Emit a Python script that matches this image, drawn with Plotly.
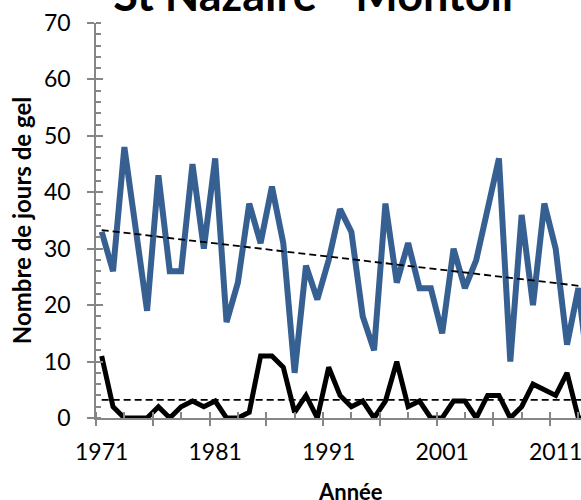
import plotly.graph_objects as go

# Frost days per year, St Nazaire - Montoir
years = list(range(1971, 2015))
jours_gel_min = [33, 26, 48, 33, 19, 43, 26, 26, 45, 30,
                 46, 17, 24, 38, 31, 41, 31, 8, 27, 21,
                 28, 37, 33, 18, 12, 38, 24, 31, 23, 23,
                 15, 30, 23, 28, 37, 46, 10, 36, 20, 38,
                 30, 13, 23, 6]
jours_gel_max = [11, 2, 0, 0, 0, 2, 0, 2, 3, 2,
                 3, 0, 0, 1, 11, 11, 9, 1, 4, 0,
                 9, 4, 2, 3, 0, 3, 10, 2, 3, 0,
                 0, 3, 3, 0, 4, 4, 0, 2, 6, 5,
                 4, 8, 0, 0]

# linear trend lines (end points)
trend_years = [1971, 2014]
trend_min = [33.3, 23.2]
trend_max = [3.2, 3.2]

label_years = [1971, 1981, 1991, 2001, 2011]
tick_bounds = [1970.5 + 5 * i for i in range(9)]

grey = "#868686"
font = "Lato"

fig = go.Figure()
fig.add_trace(go.Scatter(x=years, y=jours_gel_min, mode="lines",
                         line=dict(color="#376092", width=6), showlegend=False))
fig.add_trace(go.Scatter(x=years, y=jours_gel_max, mode="lines",
                         line=dict(color="black", width=5), showlegend=False))
fig.add_trace(go.Scatter(x=trend_years, y=trend_min, mode="lines",
                         line=dict(color="black", width=1.8, dash="7px,4px"), showlegend=False))
fig.add_trace(go.Scatter(x=trend_years, y=trend_max, mode="lines",
                         line=dict(color="black", width=1.8, dash="7px,4px"), showlegend=False))
# dummy trace so the overlay axes (extra tick marks) get drawn
fig.add_trace(go.Scatter(x=[1990], y=[0], xaxis="x2", yaxis="y2", mode="markers",
                         marker=dict(opacity=0), hoverinfo="skip", showlegend=False))

xrange = [1970.5, 2013.23]
fig.update_layout(
    width=581, height=500,
    margin=dict(l=96, r=0, t=23, b=82),
    plot_bgcolor="white", paper_bgcolor="white",
    font=dict(family=font, color="black"),
    title=dict(text="<b>St Nazaire - Montoir</b>", x=316 / 581, xanchor="center",
               y=1 - 11 / 500, yanchor="bottom", font=dict(size=45, family=font)),
    xaxis=dict(range=xrange, showgrid=False, zeroline=False, automargin=False,
               showline=True, linecolor=grey, linewidth=1.5, ticklabeloverflow="allow",
               tickmode="array", tickvals=label_years, ticktext=[str(y) for y in label_years],
               ticks="", ticklabelstandoff=13, tickfont=dict(size=23),
               minor=dict(tickmode="linear", tick0=1970.5, dtick=2.5, ticks="inside",
                          ticklen=6, tickwidth=1.5, tickcolor=grey)),
    xaxis2=dict(range=xrange, overlaying="x", anchor="y2", showgrid=False, zeroline=False,
                automargin=False, showline=False, tickmode="array", tickvals=tick_bounds,
                ticks="outside", ticklen=7, tickwidth=1.5, tickcolor=grey, showticklabels=False),
    yaxis=dict(range=[0, 70], dtick=10, showgrid=False, zeroline=False, automargin=False,
               showline=True, linecolor=grey, linewidth=1.5,
               ticks="outside", ticklen=7, tickwidth=1.5, tickcolor=grey,
               ticklabelstandoff=12, tickfont=dict(size=23),
               minor=dict(dtick=2, ticks="inside", ticklen=5, tickwidth=1.5, tickcolor=grey),
               title=dict(text="<b>Nombre de jours de gel</b>", font=dict(size=24), standoff=6)),
    yaxis2=dict(range=[0, 70], overlaying="y", anchor="x2", showgrid=False, zeroline=False,
                automargin=False, showline=False, tickmode="array", tickvals=list(range(0, 71, 10)),
                ticks="inside", ticklen=7, tickwidth=1.5, tickcolor=grey, showticklabels=False),
    annotations=[dict(text="<b>Année</b>", xref="paper", yref="paper",
                      x=(350 - 96) / 485, y=(418 - 476) / 395, xanchor="center", yanchor="top",
                      showarrow=False, font=dict(size=22))],
)

# drop the browser's default page margin so the figure sits at the window corner
fig.write_html("out.html", config={"displayModeBar": False},
               post_script="document.body.style.margin='0';")
